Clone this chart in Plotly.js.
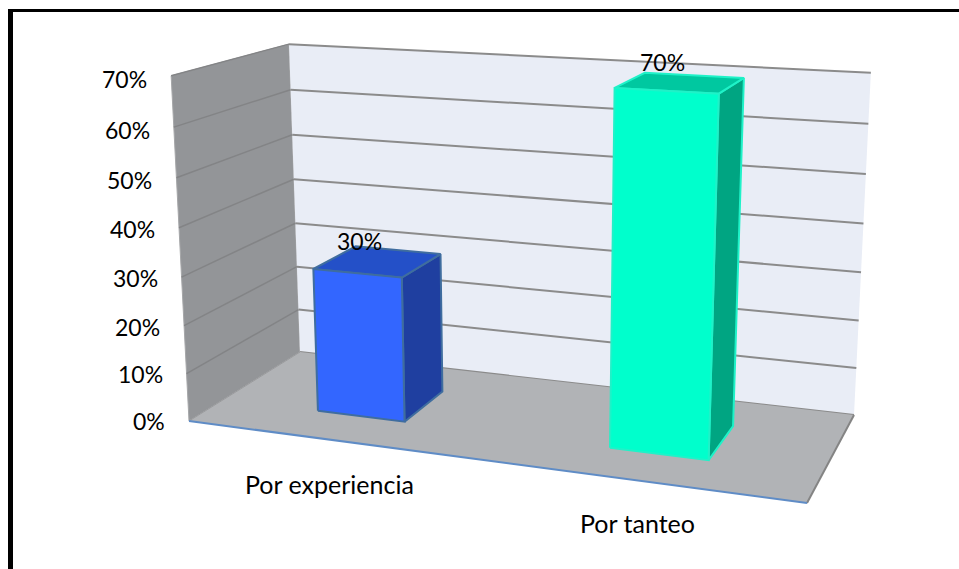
<!DOCTYPE html>
<html>
<head>
<meta charset="utf-8">
<script src="https://cdn.plot.ly/plotly-3.0.1.min.js"></script>
<style>html,body{margin:0;padding:0;background:#fff}#chart{width:959px;height:569px}</style>
</head>
<body>
<div id="chart"></div>
<script>
// Chart content
const categories = ['Por experiencia', 'Por tanteo'];
const values = [0.30, 0.70];
const tickValues = [0, 0.1, 0.2, 0.3, 0.4, 0.5, 0.6, 0.7];
const tickLabels = ['0%', '10%', '20%', '30%', '40%', '50%', '60%', '70%'];
const valueLabels = ['30%', '70%'];
const axisMax = 0.7;

// Perspective box: floor corners and vertical convergence, in plot units
const floorFrontLeft = [189, 421], floorFrontRight = [807, 503];
const floorBackRight = [854, 415], floorBackLeft = [300, 352];
const vanishX = [555, -50], vanishY = 7500;
const verticalWeight = [-0.0465, 0.0004];

// Bar footprint within the floor square
const barWidth = 0.155, barFront = 0.295, barBack = 0.70;

const [x0, y0] = floorFrontLeft, [x1, y1] = floorFrontRight;
const [x2, y2] = floorBackRight, [x3, y3] = floorBackLeft;
const dx1 = x1 - x2, dy1 = y1 - y2, dx2 = x3 - x2, dy2 = y3 - y2;
const sx = x0 - x1 + x2 - x3, sy = y0 - y1 + y2 - y3;
const det = dx1 * dy2 - dx2 * dy1;
const g = (sx * dy2 - dx2 * sy) / det, h = (dx1 * sy - sx * dy1) / det;
const ax = x1 - x0 + g * x1, bx = x3 - x0 + h * x3;
const ay = y1 - y0 + g * y1, by = y3 - y0 + h * y3;

// Map category position u, depth d and a value onto the plot plane
function project(u, d, v) {
  const k = (verticalWeight[0] + verticalWeight[1] * u) * v / axisMax;
  const w = 1 + g * u + h * d + k;
  return [
    (ax * u + bx * d + x0 + k * (vanishX[0] + vanishX[1] * u)) / w,
    (ay * u + by * d + y0 + k * vanishY) / w
  ];
}

function poly(points, fill, lineColor, lineWidth) {
  const closed = fill ? points.concat([points[0]]) : points;
  return {
    x: closed.map(p => p[0]), y: closed.map(p => p[1]),
    type: 'scatter', mode: 'lines',
    fill: fill ? 'toself' : 'none', fillcolor: fill || undefined,
    line: {color: lineColor || 'rgba(0,0,0,0)', width: lineWidth || 0},
    hoverinfo: 'skip', showlegend: false
  };
}

const traces = [];

// Walls
traces.push(poly([project(0, 0, 0), project(0, 1, 0), project(0, 1, axisMax), project(0, 0, axisMax)], '#939598', '#a6a7a9', 1));
traces.push(poly([project(0, 1, 0), project(1, 1, 0), project(1, 1, axisMax), project(0, 1, axisMax)], '#e9edf6'));

// Gridlines on both walls
tickValues.forEach(t => {
  if (t > 0) {
    traces.push(poly([project(0, 0, t), project(0, 1, t)], null, '#838486', 1.5));
  }
  traces.push(poly([project(0, 1, t), project(1, 1, t)], null, '#8b8b8b', 2));
});

// Floor with its edges
traces.push(poly([project(0, 0, 0), project(1, 0, 0), project(1, 1, 0), project(0, 1, 0)], '#b1b3b6'));
traces.push(poly([project(1, 0, 0), project(1, 1, 0)], null, '#848484', 2));
traces.push(poly([project(0, 0, 0), project(0, 1, 0)], null, '#9a9b9d', 1));
traces.push(poly([project(0, 0, 0), project(1, 0, 0)], null, '#5f8cc6', 2));

// Bars
const barStyles = [
  {front: '#3366ff', top: '#2450c8', side: '#1f3fa0', edge: '#3f6d9f'},
  {front: '#00ffcc', top: '#00c8a0', side: '#00a582', edge: '#1ff2c8'}
];
const barCenters = [0.2515, 0.7515];
values.forEach((v, i) => {
  const l = barCenters[i] - barWidth / 2, r = barCenters[i] + barWidth / 2;
  const s = barStyles[i];
  traces.push(poly([project(r, barFront, 0), project(r, barBack, 0), project(r, barBack, v), project(r, barFront, v)], s.side, s.edge, 2));
  traces.push(poly([project(l, barFront, v), project(r, barFront, v), project(r, barBack, v), project(l, barBack, v)], s.top, s.edge, 2));
  traces.push(poly([project(l, barFront, 0), project(r, barFront, 0), project(r, barFront, v), project(l, barFront, v)], s.front, s.edge, 2));
});

// Text: value axis, categories and value labels
const family = 'Lato, Carlito, sans-serif';
const numberFont = {family: family, size: 23, color: '#000'};
const categoryFont = {family: family, size: 25, color: '#000'};
const annotations = [];
tickValues.forEach((t, i) => {
  const p = project(0, 0, t);
  annotations.push({x: p[0] - 22, y: p[1] + 3 * t / axisMax, text: tickLabels[i], xanchor: 'right', yanchor: 'middle',
    showarrow: false, font: numberFont, xref: 'x', yref: 'y'});
});
const categoryDrop = [44, 42];
categories.forEach((c, i) => {
  const p = project(barCenters[i], 0, 0);
  annotations.push({x: p[0], y: p[1] + categoryDrop[i], text: c, xanchor: 'center', yanchor: 'middle',
    showarrow: false, font: categoryFont, xref: 'x', yref: 'y'});
});
values.forEach((v, i) => {
  const p = project(barCenters[i], (barFront + barBack) / 2, v);
  annotations.push({x: p[0] - 18, y: p[1] - 20.5, text: valueLabels[i], xanchor: 'center', yanchor: 'middle',
    showarrow: false, font: numberFont, xref: 'x', yref: 'y'});
});

// Heavy frame along the left and top of the page
const shapes = [
  {type: 'rect', xref: 'x', yref: 'y', x0: 8, x1: 13, y0: 9, y1: 569, fillcolor: '#000', line: {width: 0}},
  {type: 'rect', xref: 'x', yref: 'y', x0: 8, x1: 959, y0: 9, y1: 12, fillcolor: '#000', line: {width: 0}}
];

Plotly.newPlot('chart', traces, {
  width: 959, height: 569,
  margin: {l: 0, r: 0, t: 0, b: 0},
  paper_bgcolor: '#fff', plot_bgcolor: '#fff',
  xaxis: {range: [0, 959], visible: false, fixedrange: true},
  yaxis: {range: [569, 0], visible: false, fixedrange: true},
  showlegend: false,
  annotations: annotations,
  shapes: shapes
}, {displayModeBar: false, staticPlot: true});
</script>
</body>
</html>
